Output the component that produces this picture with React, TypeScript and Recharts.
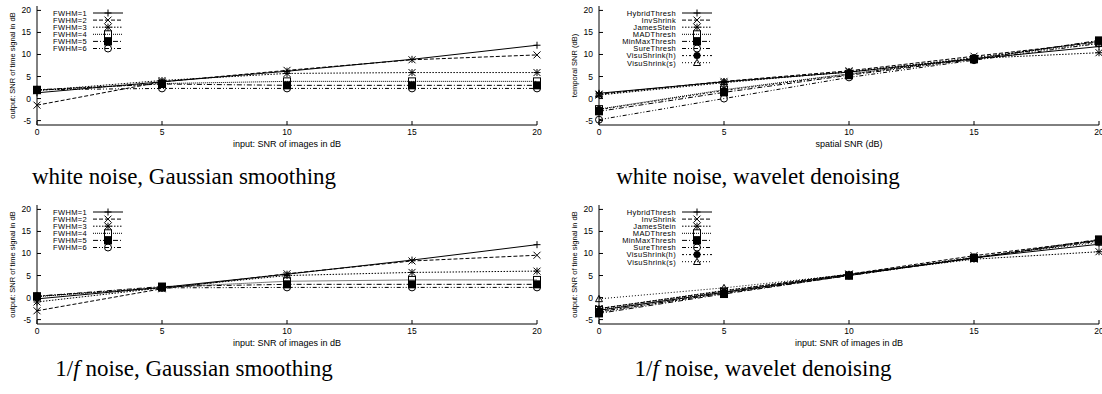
import React from 'react';
import { LineChart, Line, XAxis, YAxis, Legend } from 'recharts';

// ── Data ──────────────────────────────────────────────────────────────────────

const snrIn = [0, 5, 10, 15, 20];
const xTicks = [0, 5, 10, 15, 20];
const yTicks = [-5, 0, 5, 10, 15, 20];

const fwhmNames = ['FWHM=1', 'FWHM=2', 'FWHM=3', 'FWHM=4', 'FWHM=5', 'FWHM=6'];
const waveletNames = [
  'HybridThresh', 'InvShrink', 'JamesStein', 'MADThresh',
  'MinMaxThresh', 'SureThresh', 'VisuShrink(h)', 'VisuShrink(s)',
];

// white noise, Gaussian smoothing (one row per FWHM)
const whiteGauss = [
  [1.3, 3.8, 6.2, 8.9, 12.1],
  [-1.5, 3.8, 6.4, 8.8, 9.9],
  [1.8, 4.1, 5.7, 5.9, 5.9],
  [1.9, 3.4, 3.9, 3.9, 3.9],
  [2.0, 3.3, 3.0, 3.0, 3.0],
  [2.0, 2.3, 2.3, 2.3, 2.3],
];

// white noise, wavelet denoising
const whiteWavelet = [
  [1.2, 3.8, 6.0, 9.0, 11.8],
  [1.0, 3.9, 6.3, 9.6, 12.8],
  [0.8, 3.6, 6.1, 9.1, 10.4],
  [-2.4, 2.0, 5.6, 9.0, 13.0],
  [-2.9, 1.4, 5.3, 8.9, 13.2],
  [-4.8, 0.0, 4.8, 8.7, 12.5],
  [-2.5, 1.8, 5.5, 9.2, 13.0],
  [1.0, 3.8, 6.0, 9.3, 12.5],
];

// 1/f noise, Gaussian smoothing
const pinkGauss = [
  [-0.3, 2.3, 5.3, 8.5, 12.0],
  [-3.0, 2.0, 5.4, 8.3, 9.6],
  [-1.0, 2.2, 5.0, 5.7, 6.0],
  [0.2, 2.3, 3.7, 4.0, 4.0],
  [0.3, 2.5, 3.0, 3.0, 3.0],
  [0.3, 2.2, 2.3, 2.3, 2.3],
];

// 1/f noise, wavelet denoising
const pinkWavelet = [
  [-2.9, 1.2, 5.2, 9.0, 12.1],
  [-2.5, 1.5, 5.3, 9.5, 13.0],
  [-2.5, 1.6, 5.3, 8.7, 10.4],
  [-2.8, 1.3, 5.0, 9.0, 13.0],
  [-3.6, 0.8, 5.0, 9.0, 13.2],
  [-3.2, 1.0, 5.0, 9.0, 12.8],
  [-3.3, 1.0, 5.0, 9.0, 13.0],
  [-0.3, 2.2, 5.2, 9.2, 12.5],
];

// ── Styles (gnuplot line types / point types) ─────────────────────────────────

const dashes = ['', '4 2', '1.5 1.5', '1 1', '5 2 1 2', '4 2 1 2 1 2', '2 2 1 2', '1 2'];
const shapes = ['plus', 'cross', 'star', 'square', 'fsquare', 'circle', 'fcircle', 'triangle'];
const sans = '"Liberation Sans", Arial, sans-serif';
const serif = '"Liberation Serif", "Times New Roman", serif';

// ── Markers ───────────────────────────────────────────────────────────────────

function Marker({ shape, cx, cy }: { shape: string; cx: number; cy: number }) {
  const r = 3.5;
  const s = { stroke: '#000', strokeWidth: 1 };
  switch (shape) {
    case 'plus':
      return <path d={`M${cx - r},${cy}H${cx + r}M${cx},${cy - r}V${cy + r}`} fill="none" {...s} />;
    case 'cross':
      return <path d={`M${cx - r},${cy - r}L${cx + r},${cy + r}M${cx - r},${cy + r}L${cx + r},${cy - r}`} fill="none" {...s} />;
    case 'star':
      return (
        <path
          d={`M${cx - r},${cy}H${cx + r}M${cx},${cy - r}V${cy + r}M${cx - r},${cy - r}L${cx + r},${cy + r}M${cx - r},${cy + r}L${cx + r},${cy - r}`}
          fill="none"
          {...s}
        />
      );
    case 'square':
      return <rect x={cx - r} y={cy - r} width={2 * r} height={2 * r} fill="none" {...s} />;
    case 'fsquare':
      return <rect x={cx - 4} y={cy - 4} width={8} height={8} fill="#000" stroke="none" />;
    case 'circle':
      return <circle cx={cx} cy={cy} r={r} fill="none" {...s} />;
    case 'fcircle':
      return <circle cx={cx} cy={cy} r={r} fill="#000" stroke="none" />;
    default:
      return <path d={`M${cx},${cy - r}L${cx + r},${cy + r * 0.8}L${cx - r},${cy + r * 0.8}Z`} fill="none" {...s} />;
  }
}

// ── Axis ticks (gnuplot style: inward ticks on all four sides) ────────────────

const BottomTick = (p: any) => (
  <g>
    <line x1={p.x} x2={p.x} y1={p.y} y2={p.y - 4} stroke="#000" />
    <text x={p.x} y={p.y + 10} textAnchor="middle" fontSize={8.5} fontFamily={sans} fill="#000">
      {p.payload.value}
    </text>
  </g>
);

const LeftTick = (p: any) => (
  <g>
    <line x1={p.x} x2={p.x + 4} y1={p.y} y2={p.y} stroke="#000" />
    <text x={p.x - 6} y={p.y + 3} textAnchor="end" fontSize={8.5} fontFamily={sans} fill="#000">
      {p.payload.value}
    </text>
  </g>
);

const TopTick = (p: any) => <line x1={p.x} x2={p.x} y1={p.y} y2={p.y + 4} stroke="#000" />;
const RightTick = (p: any) => <line x1={p.x} x2={p.x - 4} y1={p.y} y2={p.y} stroke="#000" />;

// ── Key ───────────────────────────────────────────────────────────────────────

function Key({ names, textRight, top }: { names: string[]; textRight: number; top: number }) {
  const rowH = 7.1;
  return (
    <svg width={textRight + 40} height={top + names.length * rowH + 4} style={{ display: 'block', overflow: 'visible' }}>
      {names.map((n, i) => {
        const y = top + i * rowH;
        return (
          <g key={n}>
            <text x={textRight} y={y + 2.8} textAnchor="end" fontSize={7.5} letterSpacing={0.35} fontFamily={sans} fill="#000">
              {n}
            </text>
            <line x1={textRight + 6} x2={textRight + 36} y1={y} y2={y} stroke="#000" strokeDasharray={dashes[i]} />
            <Marker shape={shapes[i]} cx={textRight + 21} cy={y} />
          </g>
        );
      })}
    </svg>
  );
}

// ── Panel ─────────────────────────────────────────────────────────────────────

interface PanelProps {
  left: number;
  top: number;
  width: number;
  names: string[];
  rows: number[][];
  xLabel: string;
  yLabel: string;
  keyRight: number;
}

function Panel({ left, top, width, names, rows, xLabel, yLabel, keyRight }: PanelProps) {
  const data = snrIn.map((x, i) => {
    const row: Record<string, number> = { x };
    names.forEach((n, k) => (row[n] = rows[k][i]));
    return row;
  });

  return (
    <div style={{ position: 'absolute', left, top }}>
      <LineChart width={width} height={150} data={data} margin={{ top: 6, right: width === 545 ? 8 : 3, bottom: 0, left: 0 }}>
        <XAxis
          dataKey="x"
          type="number"
          domain={[0, 20]}
          ticks={xTicks}
          interval={0}
          height={25}
          tickSize={0}
          tickMargin={0}
          tickLine={false}
          tick={BottomTick}
          stroke="#000"
          label={{ value: xLabel, position: 'insideBottom', offset: 3, fontSize: 9, fontFamily: sans, fill: '#000' }}
        />
        <XAxis
          xAxisId="top"
          orientation="top"
          type="number"
          domain={[0, 20]}
          ticks={xTicks}
          interval={0}
          height={0}
          tickSize={0}
          tickMargin={0}
          tickLine={false}
          tick={TopTick}
          stroke="#000"
          allowDataOverflow
        />
        <YAxis
          type="number"
          domain={[-6, 21]}
          ticks={yTicks}
          interval={0}
          width={37}
          tickSize={0}
          tickMargin={0}
          tickLine={false}
          tick={LeftTick}
          stroke="#000"
          allowDataOverflow
          label={{ value: yLabel, angle: -90, position: 'center', dx: -6, fontSize: 7.5, fontFamily: sans, fill: '#000' }}
        />
        <YAxis
          yAxisId="right"
          orientation="right"
          type="number"
          domain={[-6, 21]}
          ticks={yTicks}
          interval={0}
          width={0}
          tickSize={0}
          tickMargin={0}
          tickLine={false}
          tick={RightTick}
          stroke="#000"
          allowDataOverflow
        />
        <Legend
          layout="vertical"
          align="center"
          verticalAlign="middle"
          wrapperStyle={{ left: 0, top: 0, width: keyRight + 40 }}
          content={() => <Key names={names} textRight={keyRight} top={13} />}
        />
        {names.map((n, k) => (
          <Line
            key={n}
            dataKey={n}
            type="linear"
            stroke="#000"
            strokeWidth={1}
            strokeDasharray={dashes[k]}
            dot={(p: any) => <Marker key={`${n}-${p.index}`} shape={shapes[k]} cx={p.cx} cy={p.cy} />}
            activeDot={false}
            isAnimationActive={false}
          />
        ))}
      </LineChart>
    </div>
  );
}

function Caption({ cx, top, children }: { cx: number; top: number; children: React.ReactNode }) {
  return (
    <div
      style={{
        position: 'absolute',
        left: cx - 200,
        top,
        width: 400,
        textAlign: 'center',
        fontFamily: serif,
        fontSize: 23,
        lineHeight: '26px',
        whiteSpace: 'nowrap',
      }}
    >
      {children}
    </div>
  );
}

export default function App() {
  return (
    <div style={{ position: 'absolute', left: 0, top: 0, width: 1102, height: 394, background: '#fff', overflow: 'hidden' }}>
      <Panel left={0} top={0} width={545} names={fwhmNames} rows={whiteGauss}
        xLabel="input: SNR of images in dB" yLabel="output: SNR of time signal in dB" keyRight={87} />
      <Panel left={562} top={0} width={540} names={waveletNames} rows={whiteWavelet}
        xLabel="spatial SNR (dB)" yLabel="temporal SNR (dB)" keyRight={114} />
      <Panel left={0} top={199} width={545} names={fwhmNames} rows={pinkGauss}
        xLabel="input: SNR of images in dB" yLabel="output: SNR of time signal in dB" keyRight={87} />
      <Panel left={562} top={199} width={540} names={waveletNames} rows={pinkWavelet}
        xLabel="input: SNR of images in dB" yLabel="output: SNR of time signal in dB" keyRight={114} />

      <Caption cx={184} top={164}>white noise, Gaussian smoothing</Caption>
      <Caption cx={758} top={164}>white noise, wavelet denoising</Caption>
      <Caption cx={194} top={356}>1/<i>f</i> noise, Gaussian smoothing</Caption>
      <Caption cx={763} top={356}>1/<i>f</i> noise, wavelet denoising</Caption>
    </div>
  );
}
